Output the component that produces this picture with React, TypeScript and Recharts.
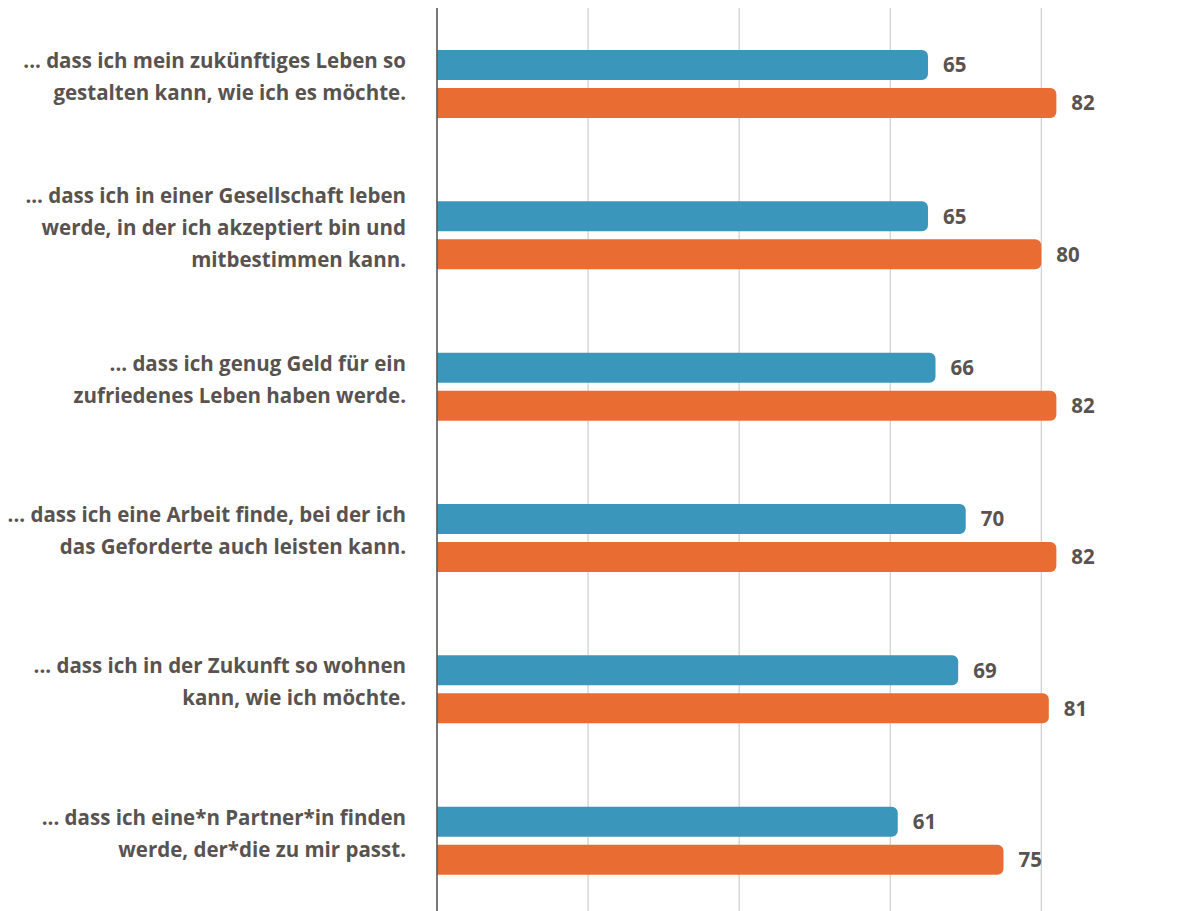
import { BarChart, Bar, XAxis, YAxis, CartesianGrid, LabelList } from 'recharts';

const categories = [
  ['... dass ich mein zukünftiges Leben so', 'gestalten kann, wie ich es möchte.'],
  ['... dass ich in einer Gesellschaft leben', 'werde, in der ich akzeptiert bin und', 'mitbestimmen kann.'],
  ['... dass ich genug Geld für ein', 'zufriedenes Leben haben werde.'],
  ['... dass ich eine Arbeit finde, bei der ich', 'das Geforderte auch leisten kann.'],
  ['... dass ich in der Zukunft so wohnen', 'kann, wie ich möchte.'],
  ['... dass ich eine*n Partner*in finden', 'werde, der*die zu mir passt.'],
];
const blueValues = [65, 65, 66, 70, 69, 61];
const orangeValues = [82, 80, 82, 82, 81, 75];
const xTicks = [0, 20, 40, 60, 80];

const data = categories.map((lines, i) => ({
  label: lines.join(' '),
  lines,
  blau: blueValues[i],
  orange: orangeValues[i],
}));

const TEXT = '#595350';

// multi-line category label, right aligned against the axis
function CategoryTick(props: any) {
  const { x, y, payload, index } = props;
  const lines: string[] = data[index]?.lines ?? [payload.value];
  const lh = 32;
  const start = -((lines.length - 1) * lh) / 2 - 7;
  return (
    <text x={x} y={y} textAnchor="end" fill={TEXT} fontSize={20.5} fontWeight={700}
      fontFamily="'Open Sans', sans-serif">
      {lines.map((l, i) => (
        <tspan key={i} x={x} y={y + start + i * lh} dy="0.35em">{l}</tspan>
      ))}
    </text>
  );
}

const valueStyle = { fontSize: 20.5, fontWeight: 700, fill: TEXT, fontFamily: "'Open Sans', sans-serif" };

export default function App() {
  return (
    <div style={{ width: 1173, height: 903, overflow: 'hidden' }}>
      <BarChart
        width={1173}
        height={908}
        data={data}
        layout="vertical"
        margin={{ top: 0, right: 0, left: 0, bottom: 0 }}
        barSize={30}
        barGap={8}
      >
        <CartesianGrid horizontal={false} stroke="#c4c4c4" />
        <XAxis type="number" domain={[0, 98.5]} ticks={xTicks} hide />
        <YAxis
          type="category"
          dataKey="label"
          width={429}
          tickLine={false}
          tickMargin={25}
          axisLine={{ stroke: '#555', strokeWidth: 1.5 }}
          tick={<CategoryTick />}
          interval={0}
        />
        <Bar dataKey="blau" fill="#3a96bb" radius={[0, 6, 6, 0]} isAnimationActive={false}>
          <LabelList dataKey="blau" position="right" offset={15} style={valueStyle} />
        </Bar>
        <Bar dataKey="orange" fill="#e96d32" radius={[0, 6, 6, 0]} isAnimationActive={false}>
          <LabelList dataKey="orange" position="right" offset={15} style={valueStyle} />
        </Bar>
      </BarChart>
    </div>
  );
}
